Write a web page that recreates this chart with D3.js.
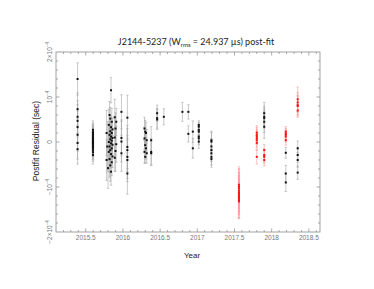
<!DOCTYPE html>
<html lang="en">
<head>
<meta charset="UTF-8">
<title>J2144-5237 post-fit residuals</title>
<script src="https://d3js.org/d3.v7.min.js"></script>
<style>
    body { margin: 0; background: white; }
    svg { display: block; }
    .tick-label { font-family: "Liberation Sans", sans-serif; font-size: 6.5px; fill: #777; }
    .axis-title { font-family: "Liberation Sans", sans-serif; font-size: 8px; fill: #222; }
    .title { font-family: Lato, sans-serif; font-size: 9px; fill: #222; }
</style>
</head>
<body>
<svg id="canvas" width="374" height="289"></svg>
<script>
    // residuals in microseconds: [year, residual, error]
    let blackToas = [
        [2015.39, 140, 36], [2015.39, 73, 36], [2015.39, 56, 36], [2015.39, 47, 36],
        [2015.39, 33, 36], [2015.39, 16, 36], [2015.39, -2, 36], [2015.39, -16, 33],
        [2015.597, 27, 20], [2015.597, 22, 20], [2015.597, 19, 20], [2015.597, 16, 20],
        [2015.597, 13, 20], [2015.597, 10, 20], [2015.597, 8, 20], [2015.597, 6, 20],
        [2015.597, 4, 20], [2015.597, 2, 20], [2015.597, 0, 20], [2015.597, -2, 20],
        [2015.597, -4, 20], [2015.597, -6, 20], [2015.597, -9, 20], [2015.597, -12, 20],
        [2015.597, -15, 20], [2015.597, -19, 20], [2015.597, -23, 20], [2015.597, -29, 20],
        [2015.84, 115, 28], [2015.82, 60, 30], [2015.83, 52, 25], [2015.85, 45, 30],
        [2015.81, 38, 35], [2015.84, 33, 25], [2015.86, 28, 25], [2015.83, 24, 20],
        [2015.85, 20, 25], [2015.82, 16, 30], [2015.84, 12, 25], [2015.86, 9, 20],
        [2015.83, 6, 25], [2015.85, 3, 22], [2015.81, 0, 40], [2015.84, -3, 25],
        [2015.86, -6, 20], [2015.82, -10, 30], [2015.85, -14, 25], [2015.83, -18, 35],
        [2015.81, -22, 45], [2015.84, -27, 30], [2015.86, -32, 25], [2015.82, -38, 40],
        [2015.85, -45, 30], [2015.83, -52, 35], [2015.80, -58, 45], [2015.84, -66, 30],
        [2015.89, 55, 40], [2015.90, 30, 35], [2015.89, 10, 45], [2015.91, -5, 40],
        [2015.90, -20, 45], [2015.89, -35, 30], [2015.91, 45, 30],
        [2015.78, 20, 50], [2015.79, -10, 55], [2015.78, -40, 45],
        [2015.98, 67, 38], [2015.98, 9, 40], [2015.98, 1, 45], [2015.98, -25, 40],
        [2016.06, 54, 50], [2016.06, -11, 48], [2016.06, -18, 48], [2016.06, -33, 48],
        [2016.06, -40, 48], [2016.06, -70, 46],
        [2016.29, 30, 25], [2016.30, 23, 25], [2016.31, 20, 24], [2016.29, 8, 25],
        [2016.32, 4, 24], [2016.30, -7, 25], [2016.31, -14, 24], [2016.29, -22, 25],
        [2016.32, -25, 22], [2016.30, -33, 14],
        [2016.38, 4, 30], [2016.38, -22, 30], [2016.38, -25, 26],
        [2016.46, 64, 18], [2016.46, 53, 22], [2016.46, 50, 22],
        [2016.55, 56, 18],
        [2016.80, 67, 21],
        [2016.88, 67, 16], [2016.88, 18, 18],
        [2016.94, 23, 24], [2016.94, -14, 22],
        [2017.02, 38, 9], [2017.02, 34, 10], [2017.02, 27, 12], [2017.02, 23, 12],
        [2017.02, 12, 14], [2017.02, 8, 14], [2017.02, 1, 15],
        [2017.19, 4, 20], [2017.19, 1, 20], [2017.19, -10, 18], [2017.19, -18, 18],
        [2017.19, -25, 18], [2017.19, -33, 18], [2017.19, -38, 18],
        [2017.90, 64, 24], [2017.90, 56, 24], [2017.90, 53, 22], [2017.90, 45, 24],
        [2017.90, 34, 26],
        [2018.19, -24, 12], [2018.19, -70, 18], [2018.19, -90, 20],
        [2018.35, -14, 16], [2018.35, -29, 16], [2018.35, -40, 16], [2018.35, -68, 15]
    ]

    let redToas = [
        [2017.56, -95, 40], [2017.56, -99, 40], [2017.56, -103, 42], [2017.56, -108, 40],
        [2017.56, -112, 44], [2017.56, -114, 40], [2017.56, -118, 42], [2017.56, -122, 40],
        [2017.56, -125, 44], [2017.56, -129, 40], [2017.56, -132, 38],
        [2017.80, 21, 15], [2017.80, 16, 16], [2017.80, 12, 16], [2017.80, 8, 14],
        [2017.80, 4, 16], [2017.80, -2, 16], [2017.80, -33, 16],
        [2017.90, -18, 12], [2017.90, -29, 14], [2017.90, -33, 14], [2017.90, -40, 13],
        [2018.19, 23, 11], [2018.19, 19, 11], [2018.19, 16, 11], [2018.19, 12, 12],
        [2018.19, 4, 11],
        [2018.35, 95, 27], [2018.35, 88, 22], [2018.35, 82, 22], [2018.35, 80, 22],
        [2018.35, 70, 15]
    ]

    let xTicks = [2015.5, 2016, 2016.5, 2017, 2017.5, 2018, 2018.5]
    let xTickLabels = ["2015.5", "2016", "2016.5", "2017", "2017.5", "2018", "2018.5"]
    let yTicks = [-200, -100, 0, 100, 200]
    // [coefficient, power] for the y labels, as printed
    let yTickLabels = [["−2×10", "−4"], ["−10", "−4"], ["0", ""], ["10", "−4"], ["2×10", "−4"]]

    const plotL = 56, plotR = 320, plotT = 52, plotB = 232
    let svg = d3.select('svg')

    let x = d3.scaleLinear().domain([2015.1, 2018.65]).range([plotL, plotR])
    let y = d3.scaleLinear().domain([-200, 200]).range([plotB, plotT])

    let axisColor = "#8a8a8a"

    // frame
    svg.append('rect')
        .attr('x', plotL).attr('y', plotT)
        .attr('width', plotR - plotL).attr('height', plotB - plotT)
        .attr('fill', 'none').attr('stroke', axisColor).attr('stroke-width', 0.8)

    // inward ticks on all four sides
    let ticks = svg.append('g').attr('stroke', axisColor).attr('stroke-width', 0.7)
    let xMinor = d3.range(152, 186.6, 1).map(d => 2000 + d / 10)
    xMinor.forEach(function (t) {
        let major = xTicks.some(m => Math.abs(m - t) < 1e-6)
        let len = major ? 3.5 : 2
        ticks.append('line').attr('x1', x(t)).attr('x2', x(t)).attr('y1', plotB).attr('y2', plotB - len)
        ticks.append('line').attr('x1', x(t)).attr('x2', x(t)).attr('y1', plotT).attr('y2', plotT + len)
    })
    d3.range(-180, 181, 20).forEach(function (t) {
        let major = yTicks.includes(t)
        let len = major ? 3.5 : 2
        ticks.append('line').attr('y1', y(t)).attr('y2', y(t)).attr('x1', plotL).attr('x2', plotL + len)
        ticks.append('line').attr('y1', y(t)).attr('y2', y(t)).attr('x1', plotR).attr('x2', plotR - len)
    })

    // tick labels
    svg.selectAll('.xlab')
        .data(xTicks)
        .enter()
        .append('text')
        .attr('class', 'tick-label')
        .attr('x', d => x(d))
        .attr('y', 239.5)
        .attr('text-anchor', 'middle')
        .text((d, i) => xTickLabels[i])

    yTicks.forEach(function (t, i) {
        let lab = svg.append('text')
            .attr('class', 'tick-label')
            .attr('text-anchor', 'middle')
            .attr('transform', 'translate(51.5,' + y(t) + ') rotate(-90)')
        lab.append('tspan').text(yTickLabels[i][0])
        if (yTickLabels[i][1]) {
            lab.append('tspan').attr('dy', -2.5).style('font-size', '4.5px').text(yTickLabels[i][1])
        }
    })

    // titles
    let title = svg.append('text').attr('class', 'title')
        .attr('x', 196).attr('y', 45).attr('text-anchor', 'middle')
    title.append('tspan').text('J2144-5237  (W')
    title.append('tspan').attr('dy', 2).style('font-size', '6px').text('rms')
    title.append('tspan').attr('dy', -2).text(' = 24.937 µs) post-fit')

    svg.append('text').attr('class', 'axis-title')
        .attr('x', 192).attr('y', 258).attr('text-anchor', 'middle').text('Year')

    svg.append('text').attr('class', 'axis-title')
        .style('font-size', '8.5px')
        .attr('text-anchor', 'middle')
        .attr('transform', 'translate(39,141) rotate(-90)')
        .text('Postfit Residual (sec)')

    function drawToas(data, barColor, pointColor) {
        let g = svg.append('g')
        let bars = g.selectAll('g.bar').data(data).enter().append('g')
            .attr('stroke', barColor).attr('stroke-width', 0.6)
        bars.append('line')
            .attr('x1', d => x(d[0])).attr('x2', d => x(d[0]))
            .attr('y1', d => y(d[1] + d[2])).attr('y2', d => y(d[1] - d[2]))
        bars.append('line')
            .attr('x1', d => x(d[0]) - 1.2).attr('x2', d => x(d[0]) + 1.2)
            .attr('y1', d => y(d[1] + d[2])).attr('y2', d => y(d[1] + d[2]))
        bars.append('line')
            .attr('x1', d => x(d[0]) - 1.2).attr('x2', d => x(d[0]) + 1.2)
            .attr('y1', d => y(d[1] - d[2])).attr('y2', d => y(d[1] - d[2]))
        g.selectAll('rect').data(data).enter().append('rect')
            .attr('x', d => x(d[0]) - 1).attr('y', d => y(d[1]) - 1)
            .attr('width', 2).attr('height', 2)
            .attr('fill', pointColor)
    }

    drawToas(blackToas, '#a6a6a6', '#111')
    drawToas(redToas, '#ff9a9a', '#ff1010')
</script>
</body>
</html>
